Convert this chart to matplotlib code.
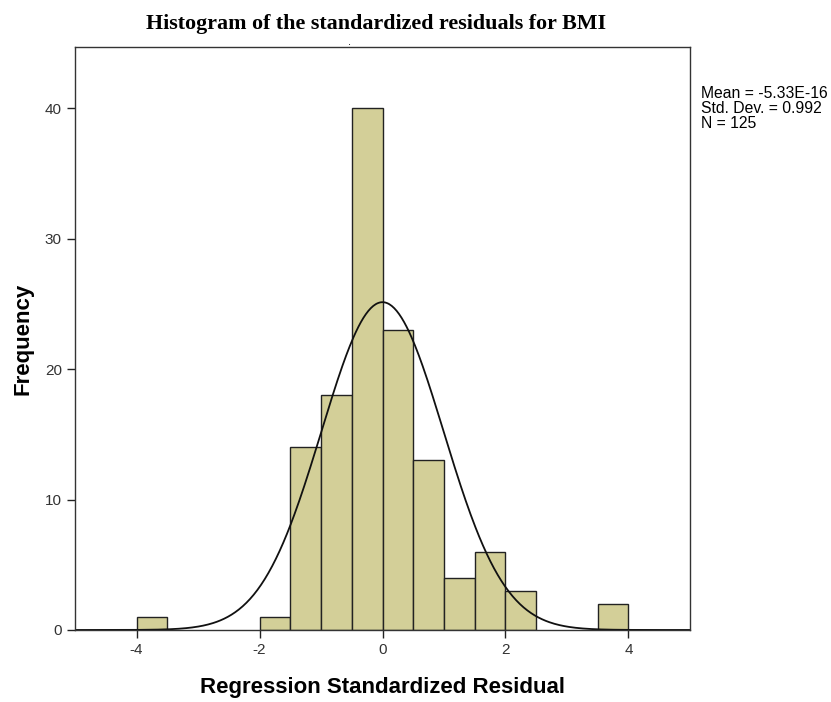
import numpy as np
import matplotlib.pyplot as plt

# histogram bins (left edges, width 0.5) and counts
bin_left = [-4.0, -3.5, -3.0, -2.5, -2.0, -1.5, -1.0, -0.5, 0.0, 0.5, 1.0, 1.5, 2.0, 2.5, 3.0, 3.5]
counts = [1, 0, 0, 0, 1, 14, 18, 40, 23, 13, 4, 6, 3, 0, 0, 2]
bin_width = 0.5

mean = -5.33e-16
std = 0.992
n = 125

plt.rcParams["font.family"] = ["Liberation Sans", "DejaVu Sans"]
plt.rcParams["axes.unicode_minus"] = False

fig = plt.figure(figsize=(8.31, 7.02), dpi=100)
ax = fig.add_axes([0.0903, 0.1026, 0.740, 0.8304])

for x0, c in zip(bin_left, counts):
    if c > 0:
        ax.bar(x0, c, width=bin_width, align="edge", color="#d3cf98",
               edgecolor="#222222", linewidth=1.0)

xs = np.linspace(-5, 5, 500)
pdf = n * bin_width * np.exp(-0.5 * ((xs - mean) / std) ** 2) / (std * np.sqrt(2 * np.pi))
ax.plot(xs, pdf, color="#111111", linewidth=1.3)

ax.set_xlim(-5, 5)
ax.set_ylim(0, 44.7)
ax.set_xticks([-4, -2, 0, 2, 4])
ax.set_yticks([0, 10, 20, 30, 40])
ax.tick_params(direction="out", length=6, width=1, labelsize=11,
               colors="#222222", labelcolor="#333333")
for s in ax.spines.values():
    s.set_color("#333333")
    s.set_linewidth(1.0)

ax.set_xlabel("Regression Standardized Residual",
              fontsize=16, fontweight="bold", labelpad=14)
ax.set_ylabel("Frequency", fontsize=16, fontweight="bold", labelpad=8)

fig.text(0.4525, 0.966, "Histogram of the standardized residuals for BMI",
         family="Liberation Serif", fontsize=15.8, fontweight="bold",
         ha="center", va="center")
fig.text(0.421, 0.94, ".", fontsize=8, ha="center", va="center")

stats = f"Mean = -5.33E-16\nStd. Dev. = {std}\nN = {n}"
fig.text(0.843, 0.878, stats, fontsize=11.3,
         ha="left", va="top", linespacing=1.02)

fig.savefig("out.png", dpi=100)
